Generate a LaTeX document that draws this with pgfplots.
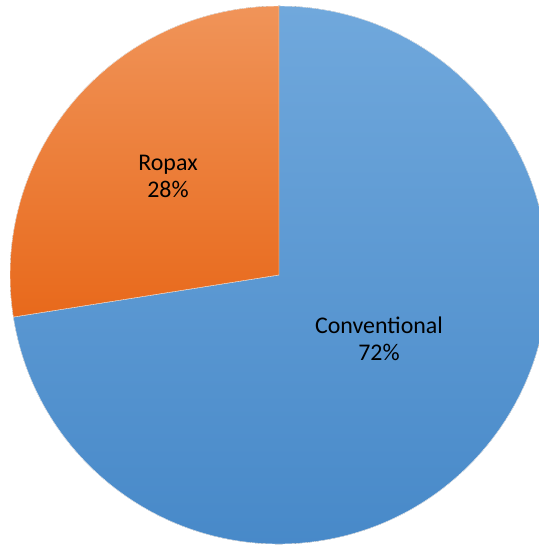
\documentclass[border=0pt]{standalone}
\usepackage{pgfplots}
\pgfplotsset{compat=1.18}
\usepackage{fontspec}
\setmainfont{Carlito}
\definecolor{blueTop}{HTML}{70A8DC}
\definecolor{blueBot}{HTML}{4688C8}
\definecolor{orTop}{HTML}{F09459}
\definecolor{orBot}{HTML}{E8691B}
\begin{document}
\begin{tikzpicture}
% shares (percent), labels show them rounded
\def\ropax{27.5}
\def\conv{72.5}
\pgfmathsetmacro{\aend}{90+\ropax*3.6}
\begin{axis}[
    width=539bp, height=545bp,
    scale only axis,
    hide axis,
    xmin=0, xmax=539, ymin=0, ymax=545,
    clip=false]
    % Conventional slice
    \fill[top color=blueTop, bottom color=blueBot, draw=white, line width=0.4pt]
        (axis cs:279,270) -- ++(\aend:269bp) arc[start angle=\aend, end angle=450, radius=269bp] -- cycle;
    % Ropax slice
    \fill[top color=orTop, bottom color=orBot, draw=white, line width=0.4pt]
        (axis cs:279,270) -- ++(90:269bp) arc[start angle=90, end angle=\aend, radius=269bp] -- cycle;
    \node[align=center, font=\fontsize{24}{27}\selectfont] at (axis cs:168,369) {Ropax\\28\%};
    \node[align=center, font=\fontsize{24}{27}\selectfont] at (axis cs:379,206) {Conventional\\72\%};
\end{axis}
\pgfresetboundingbox
\useasboundingbox (current axis.south west) rectangle (current axis.north east);
\end{tikzpicture}
\end{document}
